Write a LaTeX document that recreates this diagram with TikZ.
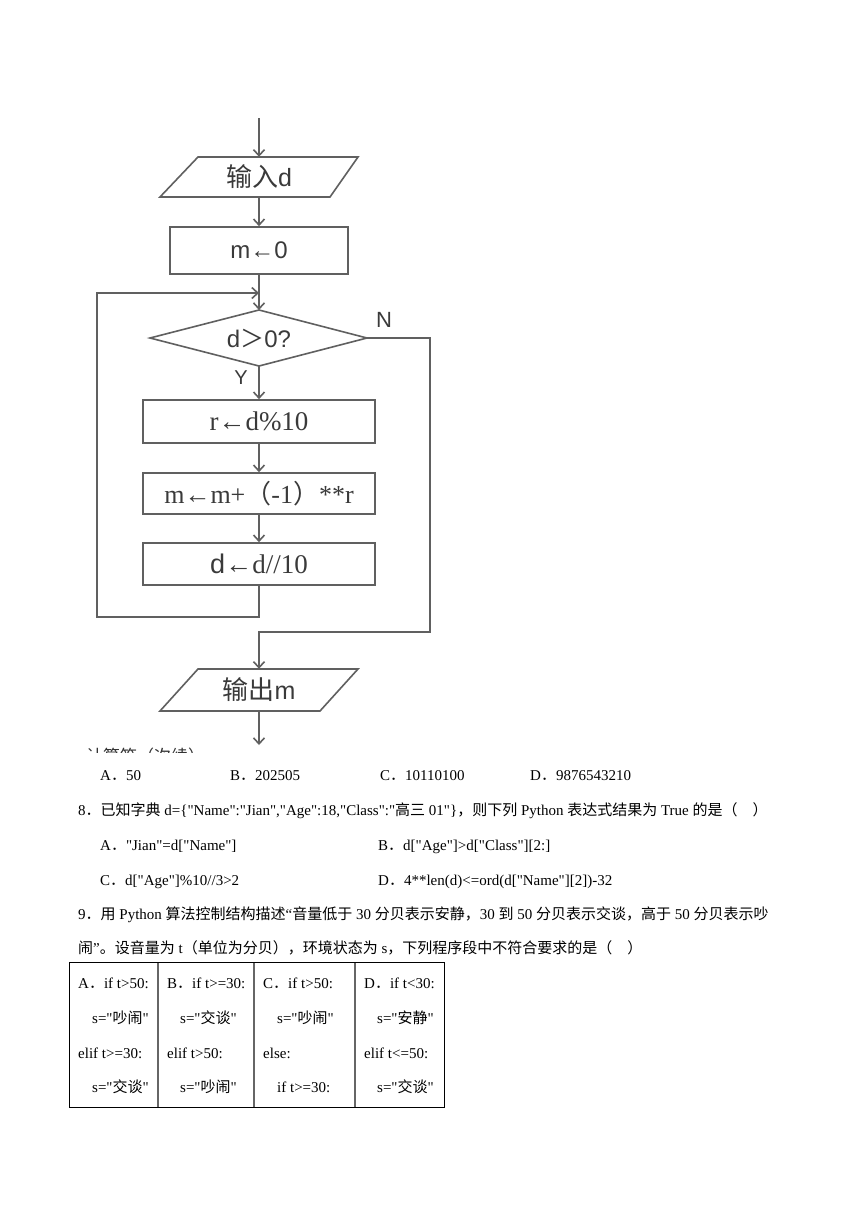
\documentclass[tikz,border=0pt]{standalone}
\usepackage{fontspec}
\setmainfont{Liberation Serif}[Ligatures=TeXOff]
\newfontfamily\zh{Noto Sans CJK SC}
\newfontfamily\sa{Liberation Sans}
\usetikzlibrary{arrows.meta,calc}
\definecolor{flc}{HTML}{606060}
\definecolor{flt}{HTML}{3A3A3A}
\begin{document}
\begin{tikzpicture}[x=1pt,y=-1pt,
  fl/.style={draw=flc, line width=1.6pt},
  arr/.style={fl, -{Straight Barb[length=6pt,width=11pt]}},
  box/.style={draw=flc, line width=1.6pt, inner sep=0pt, text=flt, minimum width=232pt},
  lbl/.style={inner sep=0pt, text=flt},
  qt/.style={anchor=base west, inner sep=0pt, font=\fontsize{15}{15}\selectfont},
  tb/.style={draw=black, line width=0.8pt},
  tdiv/.style={draw=black!60, line width=1.8pt}
]
\fill[white] (0,0) rectangle (860,1216);
\useasboundingbox (0,0) rectangle (860,1216);

% ---------- flowchart ----------
\coordinate (top) at (259,118);
\draw[fl] (198,157) -- (358,157) -- (330,197) -- (160,197) -- cycle;
\node[lbl, minimum width=150pt, minimum height=40pt] (in) at (259,177)
  {{\zh\fontsize{26}{26}\selectfont 输入}{\sa\fontsize{25}{25}\selectfont d}};
\node[box, minimum width=178pt, minimum height=47pt, font=\sa\fontsize{24}{24}\selectfont] (m0) at (259,250.5) {m←0};

\coordinate (dT) at (259,310);
\coordinate (dL) at (150,338);
\coordinate (dR) at (367,338);
\coordinate (dB) at (259,366);
\draw[fl] (dL) -- (dT) -- (dR) -- (dB) -- cycle;
\node[lbl] (dtx) at (259,338)
  {{\sa\fontsize{24}{24}\selectfont d}{\zh\fontsize{24}{24}\selectfont ＞}{\sa\fontsize{24}{24}\selectfont 0?}};
\node[lbl, font=\sa\fontsize{22}{22}\selectfont] (N) at (384,320) {N};
\node[lbl, font=\sa\fontsize{20}{20}\selectfont] (Y) at (241,378) {Y};

\node[box, minimum height=43pt, font=\fontsize{27}{27}\selectfont] (r) at (259,421.5) {r←d\%10};
\node[box, minimum height=41pt, font=\fontsize{26}{26}\selectfont] (mm) at (259,493.5)
  {m←m+{\zh （}-1{\zh ）}**r};
\node[box, minimum height=42pt, font=\fontsize{27}{27}\selectfont] (dd) at (259,564)
  {{\sa d}←d//10};

\draw[fl] (198,669) -- (358,669) -- (320,711) -- (160,711) -- cycle;
\node[lbl, minimum width=150pt, minimum height=42pt] (out) at (259,690)
  {{\zh\fontsize{26}{26}\selectfont 输出}{\sa\fontsize{25}{25}\selectfont m}};

\coordinate (merge) at (259,293);
\coordinate (lb1) at (259,617);
\coordinate (lb2) at (97,617);
\coordinate (lb3) at (97,293);
\coordinate (rn1) at (430,338);
\coordinate (rn2) at (430,632);
\coordinate (rn3) at (259,632);
\coordinate (bot) at (259,745);

\draw[arr] (top) -- (in.north);
\draw[arr] (in.south) -- (m0.north);
\draw[arr] (m0.south) -- (dT);
\draw[arr] (dB) -- (r.north);
\draw[arr] (r.south) -- (mm.north);
\draw[arr] (mm.south) -- (dd.north);
\draw[arr] (dd.south) -- (lb1) -- (lb2) -- (lb3) -- (merge);
\draw[arr] (dR) -- (rn1) -- (rn2) -- (rn3) -- (out.north);
\draw[arr] (out.south) -- (bot);

% cut-off caption fragment
\begin{scope}
\clip (88,742) rectangle (215,752);
\node[lbl, anchor=west, text=black!80, font=\zh\fontsize{17}{17}\selectfont] (cut) at (86,756) {计算笛（次续）};
\end{scope}

% ---------- question text ----------
\node[qt] (a7) at (100,780) {A{\zh ．}50};
\node[qt] (b7) at (230,780) {B{\zh ．}202505};
\node[qt] (c7) at (380,780) {C{\zh ．}10110100};
\node[qt] (d7) at (530,780) {D{\zh ．}9876543210};

\node[qt] (q8) at (78,815) {8{\zh ．已知字典} d=\{"Name":"Jian","Age":18,"Class":"{\zh 高三} 01"\}{\zh ，则下列} Python {\zh 表达式结果为} True {\zh 的是（　）}};
\node[qt] (a8) at (100,850) {A{\zh ．}"Jian"=d["Name"]};
\node[qt] (b8) at (378,850) {B{\zh ．}d["Age"]>d["Class"][2:]};
\node[qt] (c8) at (100,885) {C{\zh ．}d["Age"]\%10//3>2};
\node[qt] (d8) at (378,885) {D{\zh ．}4**len(d)<=ord(d["Name"][2])-32};

\node[qt] (q9) at (78,919) {9{\zh ．用} Python {\zh 算法控制结构描述}“{\zh 音量低于} 30 {\zh 分贝表示安静，}30 {\zh 到} 50 {\zh 分贝表示交谈，高于} 50 {\zh 分贝表示吵}};
\node[qt] (q9b) at (78,953) {{\zh 闹}”{\zh 。设音量为} t{\zh （单位为分贝），环境状态为} s{\zh ，下列程序段中不符合要求的是（　）}};

% ---------- table ----------
\draw[tdiv] (158,962) -- (158,1107);
\draw[tdiv] (254,962) -- (254,1107);
\draw[tdiv] (355,962) -- (355,1107);
\draw[tb] (69,962) rectangle (444,1107);

\node[qt] (ta1) at (78,988) {A{\zh ．}if t>50:};
\node[qt] (ta2) at (92,1023) {s="{\zh 吵闹}"};
\node[qt] (ta3) at (78,1058) {elif t>=30:};
\node[qt] (ta4) at (92,1092) {s="{\zh 交谈}"};

\node[qt] (tb1) at (167,988) {B{\zh ．}if t>=30:};
\node[qt] (tb2) at (180,1023) {s="{\zh 交谈}"};
\node[qt] (tb3) at (167,1058) {elif t>50:};
\node[qt] (tb4) at (180,1092) {s="{\zh 吵闹}"};

\node[qt] (tc1) at (263,988) {C{\zh ．}if t>50:};
\node[qt] (tc2) at (277,1023) {s="{\zh 吵闹}"};
\node[qt] (tc3) at (263,1058) {else:};
\node[qt] (tc4) at (277,1092) {if t>=30:};

\node[qt] (td1) at (364,988) {D{\zh ．}if t<30:};
\node[qt] (td2) at (377,1023) {s="{\zh 安静}"};
\node[qt] (td3) at (364,1058) {elif t<=50:};
\node[qt] (td4) at (377,1092) {s="{\zh 交谈}"};
\end{tikzpicture}
\end{document}
